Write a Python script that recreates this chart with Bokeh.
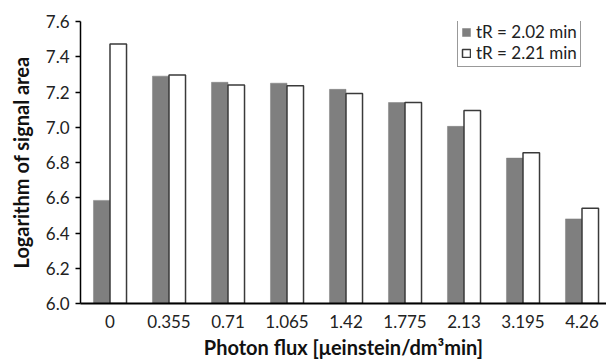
from bokeh.plotting import figure
from bokeh.models import Range1d, FixedTicker, Legend, LegendItem, ColumnDataSource
from bokeh.embed import file_html
from bokeh.resources import INLINE

categories = ["0", "0.355", "0.71", "1.065", "1.42", "1.775", "2.13", "3.195", "4.26"]
tr_202 = [6.585, 7.29, 7.255, 7.25, 7.215, 7.14, 7.005, 6.825, 6.48]
tr_221 = [7.473, 7.297, 7.24, 7.236, 7.192, 7.141, 7.095, 6.856, 6.54]
y_ticks = [6.0, 6.2, 6.4, 6.6, 6.8, 7.0, 7.2, 7.4, 7.6]
series_labels = ["tR = 2.02 min", "tR = 2.21 min"]

FONT = "Lato"
pos = list(range(len(categories)))
bw = 0.28

p = figure(width=606, height=361, output_backend="svg", toolbar_location=None,
           x_range=Range1d(-0.5, -0.5 + 526 / 59.0), y_range=Range1d(6.0, 7.6),
           min_border_left=80, min_border_right=0, min_border_top=21, min_border_bottom=53)
p.outline_line_color = None
p.xgrid.grid_line_color = None
p.ygrid.grid_line_color = None
p.background_fill_color = "white"

src1 = ColumnDataSource(dict(x=[i - bw / 2 for i in pos], top=tr_202))
src2 = ColumnDataSource(dict(x=[i + bw / 2 for i in pos], top=tr_221))
r1 = p.vbar(x="x", top="top", bottom=6.0, width=bw, source=src1,
            fill_color="#7f7f7f", line_color="#7f7f7f", line_width=0.5)
r2 = p.vbar(x="x", top="top", bottom=6.0, width=bw, source=src2,
            fill_color="white", line_color="#3a3a3a", line_width=1.5)

# axes
p.xaxis.ticker = FixedTicker(ticks=pos)
p.xaxis.major_label_overrides = {i: c for i, c in zip(pos, categories)}
p.xaxis.major_tick_line_color = None
p.xaxis.minor_tick_line_color = None
p.xaxis.axis_line_color = "black"
p.xaxis.axis_line_width = 2
p.xaxis.major_label_text_font = FONT
p.xaxis.major_label_text_font_size = "17px"
p.xaxis.major_label_text_color = "#222222"
p.xaxis.major_label_standoff = 5
p.xaxis.axis_label = "Photon flux [\u03bceinstein/dm\u00b3min]"
p.xaxis.axis_label_text_font = FONT
p.xaxis.axis_label_text_font_style = "bold"
p.xaxis.axis_label_text_font_size = "20px"
p.xaxis.axis_label_text_color = "#111111"
p.xaxis.axis_label_standoff = 4

p.yaxis.ticker = FixedTicker(ticks=y_ticks)
p.yaxis.major_label_overrides = {t: f"{t:.1f}" for t in y_ticks}
p.yaxis.minor_tick_line_color = None
p.yaxis.major_tick_in = 0
p.yaxis.major_tick_out = 5
p.yaxis.major_tick_line_color = "black"
p.yaxis.major_tick_line_width = 1.5
p.yaxis.axis_line_color = "black"
p.yaxis.axis_line_width = 1.5
p.yaxis.major_label_text_font = FONT
p.yaxis.major_label_text_font_size = "17px"
p.yaxis.major_label_text_color = "#222222"
p.yaxis.major_label_standoff = 6
p.yaxis.axis_label = "Logarithm of signal area"
p.yaxis.axis_label_text_font = FONT
p.yaxis.axis_label_text_font_style = "bold"
p.yaxis.axis_label_text_font_size = "20px"
p.yaxis.axis_label_text_color = "#111111"
p.yaxis.axis_label_standoff = 10

legend = Legend(items=[LegendItem(label=series_labels[0], renderers=[r1]),
                       LegendItem(label=series_labels[1], renderers=[r2])],
                location=(377, 236))
legend.border_line_color = "#333333"
legend.border_line_width = 1
legend.background_fill_color = "white"
legend.label_text_font = FONT
legend.label_text_font_size = "17px"
legend.label_text_color = "#222222"
legend.glyph_width = 10
legend.glyph_height = 10
legend.label_standoff = 5
legend.spacing = 0
legend.padding = 3
legend.margin = 0
legend.label_height = 21
p.add_layout(legend, "center")

open("out.html", "w").write(file_html(p, INLINE))
